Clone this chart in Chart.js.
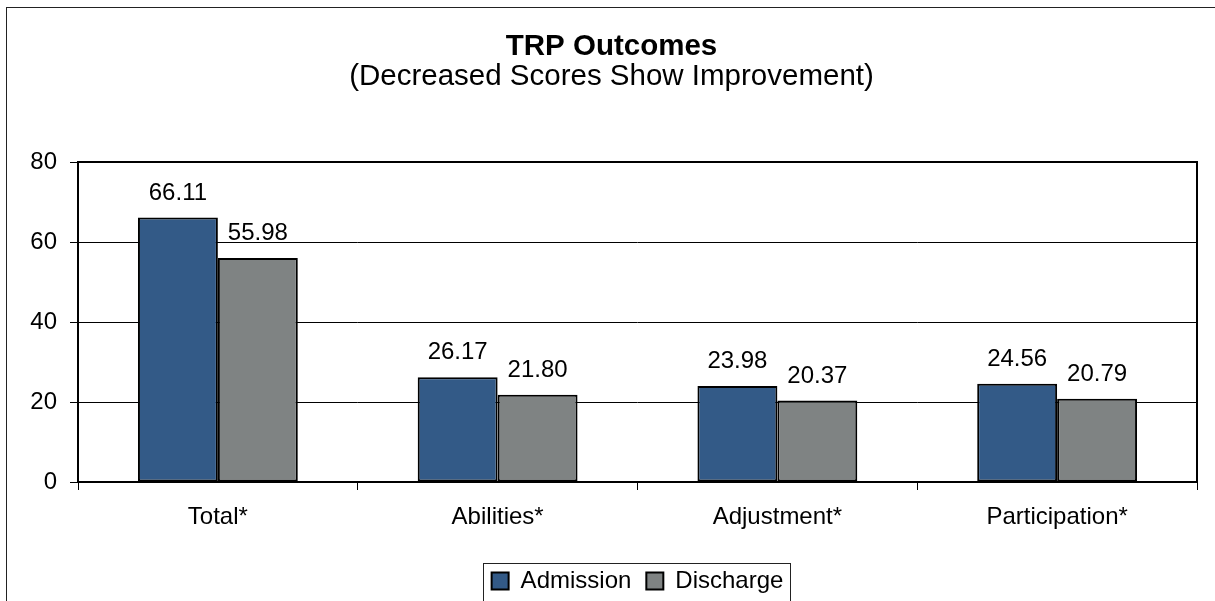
<!DOCTYPE html>
<html>
<head>
<meta charset="utf-8">
<script src="https://cdn.jsdelivr.net/npm/chart.js@4.4.1/dist/chart.umd.min.js"></script>
<style>
  html, body { margin: 0; padding: 0; background: #fff; overflow: hidden; }
  #wrap { width: 1215px; height: 603px; }
</style>
</head>
<body>
<div id="wrap"><canvas id="trpChart"></canvas></div>
<script>
// values
const categories = ['Total*', 'Abilities*', 'Adjustment*', 'Participation*'];
const admission = [66.11, 26.17, 23.98, 24.56];
const discharge = [55.98, 21.80, 20.37, 20.79];
const yTicks = [0, 20, 40, 60, 80];

const FONT = '"Liberation Sans", Arial, sans-serif';

// outer frame + plot frame
const framePlugin = {
  id: 'frames',
  beforeDraw(chart) {
    const ctx = chart.ctx;
    ctx.save();
    ctx.fillStyle = '#fff';
    ctx.fillRect(0, 0, chart.width, chart.height);
    ctx.strokeStyle = '#222';
    ctx.lineWidth = 1;
    ctx.strokeRect(6.5, 7.5, chart.width + 20, chart.height + 20);
    ctx.restore();
  },
  beforeDatasetsDraw(chart) {
    const a = chart.chartArea;
    const ctx = chart.ctx;
    ctx.save();
    ctx.strokeStyle = '#000';
    ctx.lineWidth = 2;
    ctx.strokeRect(a.left, a.top, a.right - a.left, a.bottom - a.top);
    ctx.restore();
  }
};

// value labels above the bars
const valueLabels = {
  id: 'valueLabels',
  afterDatasetsDraw(chart) {
    const ctx = chart.ctx;
    ctx.save();
    ctx.font = '24px ' + FONT;
    ctx.fillStyle = '#000';
    ctx.textAlign = 'center';
    ctx.textBaseline = 'alphabetic';
    chart.data.datasets.forEach((ds, i) => {
      chart.getDatasetMeta(i).data.forEach((bar, j) => {
        ctx.fillText(ds.data[j].toFixed(2), bar.x, bar.y - 18);
      });
    });
    ctx.restore();
  }
};

// box round the legend
const legendBorder = {
  id: 'legendBorder',
  afterDraw(chart) {
    const boxes = chart.legend.legendHitBoxes;
    if (!boxes || !boxes.length) return;
    const first = boxes[0], last = boxes[boxes.length - 1];
    const l = first.left - 8.5;
    const r = last.left + last.width + 7;
    const t = first.top - 6.5;
    const b = first.top + first.height + 7.5;
    const ctx = chart.ctx;
    ctx.save();
    ctx.strokeStyle = '#222';
    ctx.lineWidth = 1;
    ctx.strokeRect(Math.round(l) + 0.5, Math.round(t) + 0.5, Math.round(r - l), Math.round(b - t));
    ctx.restore();
  }
};

new Chart(document.getElementById('trpChart'), {
  type: 'bar',
  data: {
    labels: categories,
    datasets: [
      {
        label: 'Admission',
        data: admission,
        backgroundColor: '#335A87',
        borderColor: '#000',
        borderWidth: 2,
        borderSkipped: false
      },
      {
        label: 'Discharge',
        data: discharge,
        backgroundColor: '#7F8383',
        borderColor: '#000',
        borderWidth: 2,
        borderSkipped: false
      }
    ]
  },
  options: {
    responsive: true,
    maintainAspectRatio: false,
    animation: false,
    layout: { padding: { left: 26, right: 18, top: 0, bottom: 0 } },
    datasets: { bar: { categoryPercentage: 160 / 280, barPercentage: 1 } },
    plugins: {
      tooltip: { enabled: false },
      title: {
        display: true,
        text: 'TRP Outcomes',
        color: '#000',
        font: { family: FONT, size: 29.5, weight: 'bold', lineHeight: 1 },
        padding: { top: 32, bottom: 0 }
      },
      subtitle: {
        display: true,
        text: '(Decreased Scores Show Improvement)',
        color: '#000',
        font: { family: FONT, size: 29.5, lineHeight: 1 },
        padding: { top: 1, bottom: 70 }
      },
      legend: {
        display: true,
        position: 'bottom',
        fullSize: false,
        labels: {
          color: '#000',
          font: { family: FONT, size: 24 },
          boxWidth: 17,
          boxHeight: 17,
          padding: 15
        }
      }
    },
    scales: {
      x: {
        offset: true,
        afterFit(scale) { scale.height = 72; },
        grid: {
          offset: true,
          drawOnChartArea: false,
          drawTicks: true,
          tickLength: 8,
          color: '#000',
          lineWidth: 1
        },
        border: { display: false },
        ticks: {
          color: '#000',
          padding: 13,
          maxRotation: 0,
          font: { family: FONT, size: 24 }
        }
      },
      y: {
        min: 0,
        max: 80,
        afterFit(scale) { scale.width = 52; },
        afterBuildTicks(scale) { scale.ticks = yTicks.map(v => ({ value: v })); },
        grid: {
          color: '#000',
          lineWidth: 1,
          tickLength: 8
        },
        border: { display: false },
        ticks: {
          color: '#000',
          padding: 13,
          font: { family: FONT, size: 24 }
        }
      }
    }
  },
  plugins: [framePlugin, valueLabels, legendBorder]
});
</script>
</body>
</html>
